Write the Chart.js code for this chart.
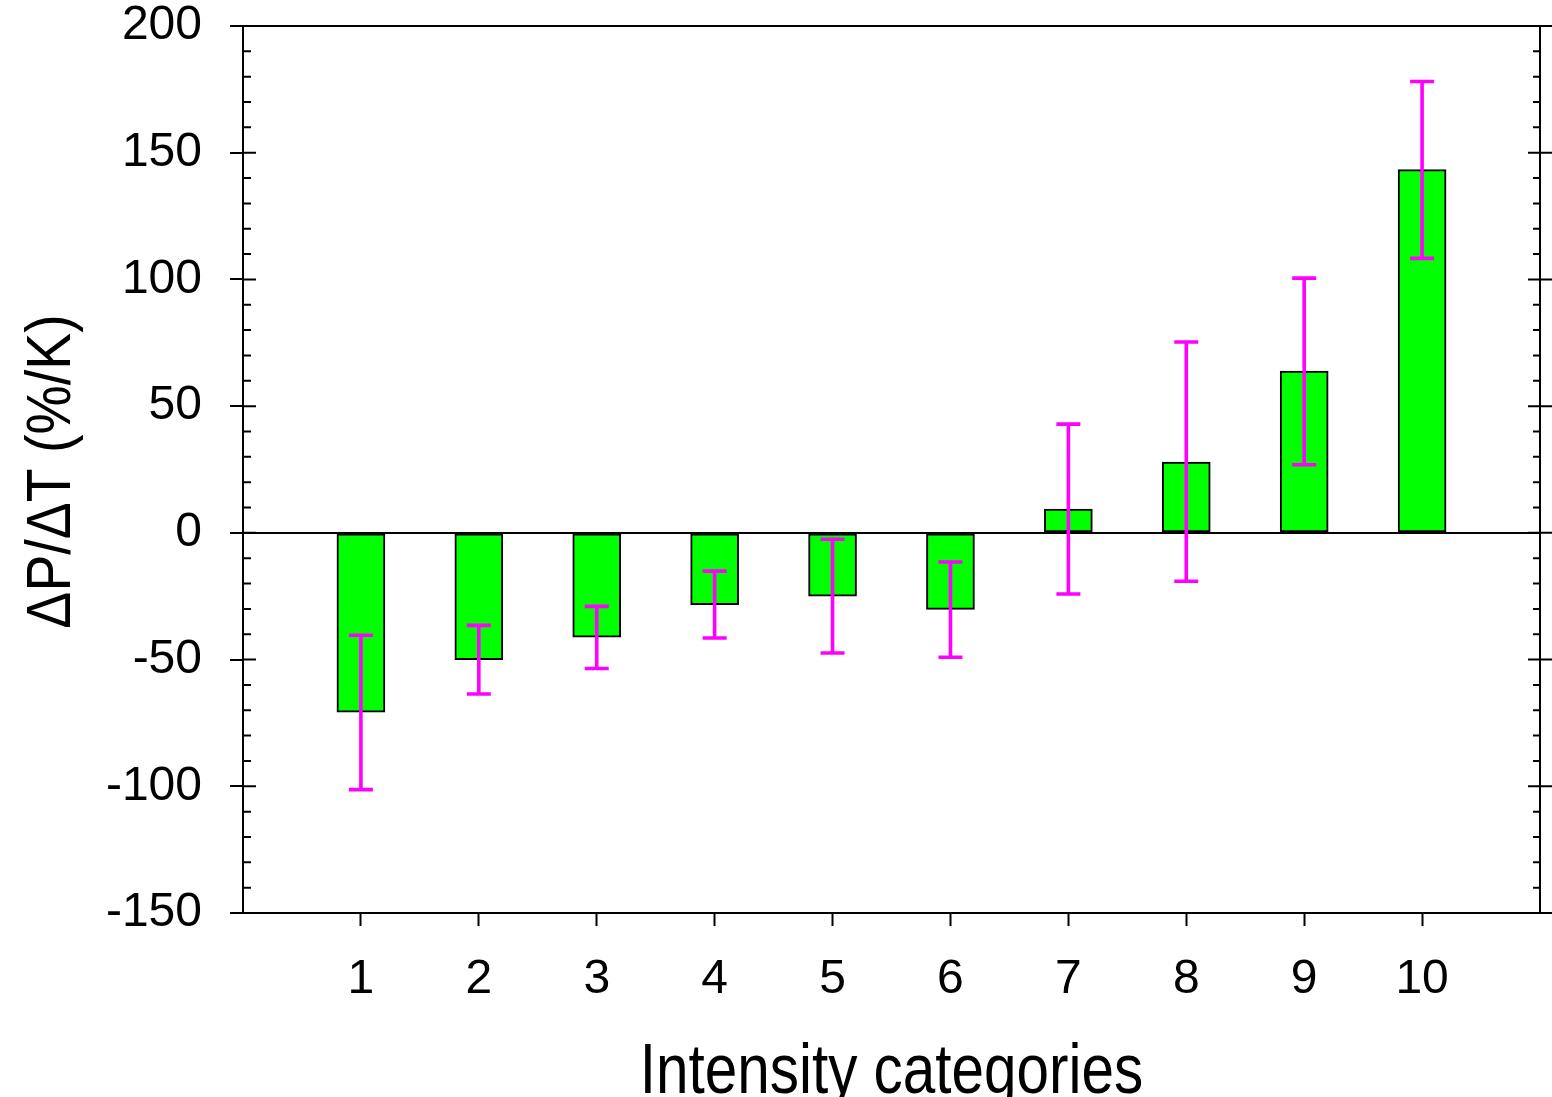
<!DOCTYPE html>
<html>
<head>
<meta charset="utf-8">
<script src="https://cdn.jsdelivr.net/npm/chart.js@4/dist/chart.umd.min.js"></script>
<style>
  html, body { margin: 0; padding: 0; background: #ffffff; }
  canvas { display: block; }
</style>
</head>
<body>
<canvas id="c" width="1552" height="1097"></canvas>
<script>
// Intensity categories and the precipitation sensitivity per category
const categories = [1, 2, 3, 4, 5, 6, 7, 8, 9, 10];
const sensitivity = [-70.8, -50.0, -41.2, -28.3, -25.0, -30.2, 9.4, 27.9, 63.8, 143.3];
// Upper and lower ends of the uncertainty range
const errHigh = [-40.4, -36.5, -29.0, -15.1, -2.5, -11.5, 42.9, 75.3, 100.5, 178.1];
const errLow  = [-101.3, -63.6, -53.5, -41.5, -47.4, -49.1, -24.1, -19.1, 26.9, 108.3];
// Y-axis tick values
const yTicks = [-150, -100, -50, 0, 50, 100, 150, 200];
const yMinorStep = 10;

const xTitle = 'Intensity categories';
const yTitle = '\u0394P/\u0394T (%/K)';

const FONT = '"Liberation Sans", Arial, Helvetica, sans-serif';

// Frame, inner/minor ticks, right-hand ticks and axis titles
const framePlugin = {
  id: 'frame',
  afterDraw(chart) {
    const { ctx, chartArea: a, scales } = chart;
    const y = scales.y;
    ctx.save();
    ctx.strokeStyle = '#000';
    ctx.lineWidth = 2;
    ctx.lineCap = 'butt';
    // top and right border
    ctx.beginPath();
    ctx.moveTo(a.left, a.top);
    ctx.lineTo(a.right, a.top);
    ctx.moveTo(a.right, a.top - 1);
    ctx.lineTo(a.right, a.bottom + 1);
    ctx.stroke();
    // major ticks (inner part on the left, both sides on the right)
    ctx.beginPath();
    yTicks.forEach(v => {
      const py = y.getPixelForValue(v);
      ctx.moveTo(a.left, py); ctx.lineTo(a.left + 13, py);
      ctx.moveTo(a.right - 12, py); ctx.lineTo(a.right + 12, py);
    });
    // minor ticks
    for (let v = y.min; v <= y.max; v += yMinorStep) {
      if (yTicks.includes(v)) continue;
      const py = y.getPixelForValue(v);
      ctx.moveTo(a.left, py); ctx.lineTo(a.left + 8, py);
      ctx.moveTo(a.right - 7, py); ctx.lineTo(a.right, py);
    }
    ctx.stroke();

    // axis titles
    ctx.fillStyle = '#000';
    ctx.textAlign = 'center';
    ctx.textBaseline = 'alphabetic';
    ctx.save();
    ctx.font = '70px ' + FONT;
    ctx.translate((a.left + a.right) / 2, 1093);
    ctx.scale(0.835, 1);
    ctx.fillText(xTitle, 0, 0);
    ctx.restore();

    ctx.save();
    ctx.font = '63px ' + FONT;
    ctx.translate(70, (a.top + a.bottom) / 2 + 2);
    ctx.rotate(-Math.PI / 2);
    ctx.scale(0.88, 1);
    ctx.fillText(yTitle, 0, 0);
    ctx.restore();
    ctx.restore();
  }
};

// Error bars drawn over the bars
const errorBarPlugin = {
  id: 'errorBars',
  afterDatasetsDraw(chart) {
    const { ctx, scales } = chart;
    const x = scales.x, y = scales.y;
    ctx.save();
    ctx.strokeStyle = '#ff00ff';
    ctx.lineWidth = 3.6;
    ctx.beginPath();
    categories.forEach((c, i) => {
      const px = x.getPixelForValue(c);
      const hi = y.getPixelForValue(errHigh[i]);
      const lo = y.getPixelForValue(errLow[i]);
      ctx.moveTo(px, hi); ctx.lineTo(px, lo);
      ctx.moveTo(px - 12, hi); ctx.lineTo(px + 12, hi);
      ctx.moveTo(px - 12, lo); ctx.lineTo(px + 12, lo);
    });
    ctx.stroke();
    ctx.restore();
  }
};

new Chart(document.getElementById('c'), {
  type: 'bar',
  data: {
    datasets: [{
      data: categories.map((c, i) => ({ x: c, y: sensitivity[i] })),
      backgroundColor: '#00ff00',
      borderColor: '#000000',
      borderWidth: 2,
      borderSkipped: false,
      barThickness: 48
    }]
  },
  options: {
    responsive: false,
    devicePixelRatio: 1,
    animation: false,
    layout: { padding: { left: 0, right: 12, top: 26, bottom: 0 } },
    plugins: { legend: { display: false }, tooltip: { enabled: false } },
    scales: {
      x: {
        type: 'linear',
        min: 0,
        max: 11,
        offset: false,
        afterBuildTicks(scale) { scale.ticks = categories.map(v => ({ value: v })); },
        afterFit(scale) { scale.height = 184; scale.paddingLeft = 0; scale.paddingRight = 0; },
        ticks: {
          color: '#000',
          font: { family: FONT, size: 48, lineHeight: 1 },
          padding: 30,
          maxRotation: 0,
          autoSkip: false,
          callback: v => String(v)
        },
        grid: {
          offset: false,
          drawOnChartArea: false,
          drawTicks: true,
          tickLength: 13,
          tickWidth: 2,
          tickColor: '#000'
        },
        border: { display: true, color: '#000', width: 2 }
      },
      y: {
        min: -150,
        max: 200,
        afterBuildTicks(scale) { scale.ticks = yTicks.map(v => ({ value: v })); },
        afterFit(scale) { scale.width = 243; scale.paddingTop = 0; scale.paddingBottom = 0; },
        ticks: {
          color: '#000',
          font: { family: FONT, size: 48, lineHeight: 1 },
          padding: 28,
          callback: v => String(v)
        },
        grid: {
          drawOnChartArea: true,
          color: ctx => (ctx.tick && ctx.tick.value === 0) ? '#000' : 'rgba(0,0,0,0)',
          lineWidth: 2,
          drawTicks: true,
          tickLength: 13,
          tickWidth: 2,
          tickColor: '#000'
        },
        border: { display: true, color: '#000', width: 2 }
      }
    }
  },
  plugins: [framePlugin, errorBarPlugin]
});
</script>
</body>
</html>
